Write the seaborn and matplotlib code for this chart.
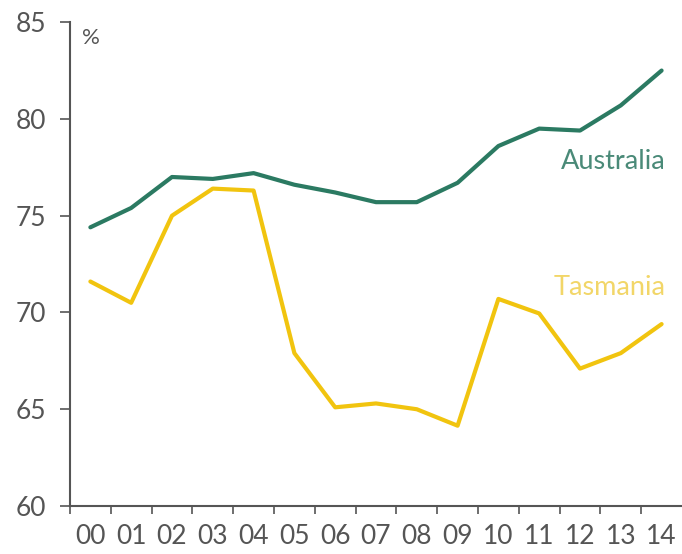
import matplotlib
matplotlib.use('Agg')
import matplotlib.pyplot as plt
import seaborn as sns
import pandas as pd
from matplotlib.ticker import FixedLocator

years = ['00', '01', '02', '03', '04', '05', '06', '07', '08', '09', '10', '11', '12', '13', '14']
australia = [74.4, 75.4, 77.0, 76.9, 77.2, 76.6, 76.2, 75.7, 75.7, 76.7, 78.6, 79.5, 79.4, 80.7, 82.5]
tasmania = [71.6, 70.5, 75.0, 76.4, 76.3, 67.9, 65.1, 65.3, 65.0, 64.15, 70.7, 69.95, 67.1, 67.9, 69.4]

aus_col = '#2b7a62'
tas_col = '#f1c40f'
grey = '#555555'

sns.set_theme(style='white')
plt.rcParams['font.family'] = ['Lato', 'DejaVu Sans']

df = pd.DataFrame({'x': list(range(len(years))) * 2,
                   'value': australia + tasmania,
                   'region': ['Australia'] * len(years) + ['Tasmania'] * len(years)})

fig = plt.figure(figsize=(6.82, 5.54), dpi=100)
ax = fig.add_axes([0.1026, 0.0866, 0.8974, 0.8734])

sns.lineplot(data=df, x='x', y='value', hue='region',
             palette={'Australia': aus_col, 'Tasmania': tas_col},
             linewidth=3, legend=False, ax=ax)

ax.set_xlim(-0.5, 14.5)
ax.set_ylim(60, 85)
ax.set_yticks([60, 65, 70, 75, 80, 85])
ax.set_xticks(range(len(years)))
ax.set_xticklabels(years)
ax.xaxis.set_minor_locator(FixedLocator([i - 0.5 for i in range(len(years))]))
ax.tick_params(axis='x', which='major', length=0, pad=13, labelsize=19, labelcolor=grey)
ax.tick_params(axis='x', which='minor', length=6, width=1.2, color=grey, direction='out', bottom=True)
ax.tick_params(axis='y', length=7, width=1.2, color=grey, direction='out', left=True,
               pad=10, labelsize=19, labelcolor=grey)
ax.set_xlabel('')
ax.set_ylabel('')

for side in ['top', 'right']:
    ax.spines[side].set_visible(False)
for side in ['left', 'bottom']:
    ax.spines[side].set_color(grey)
    ax.spines[side].set_linewidth(1.5)

ax.text(-0.2, 84.2, '%', fontsize=16, color=grey, ha='left', va='center')
ax.text(14.1, 77.8, 'Australia', fontsize=19.5, color='#4a8a78', ha='right', va='center')
ax.text(14.1, 71.3, 'Tasmania', fontsize=19.5, color='#f2d668', ha='right', va='center')

fig.savefig('out.png', dpi=100)
